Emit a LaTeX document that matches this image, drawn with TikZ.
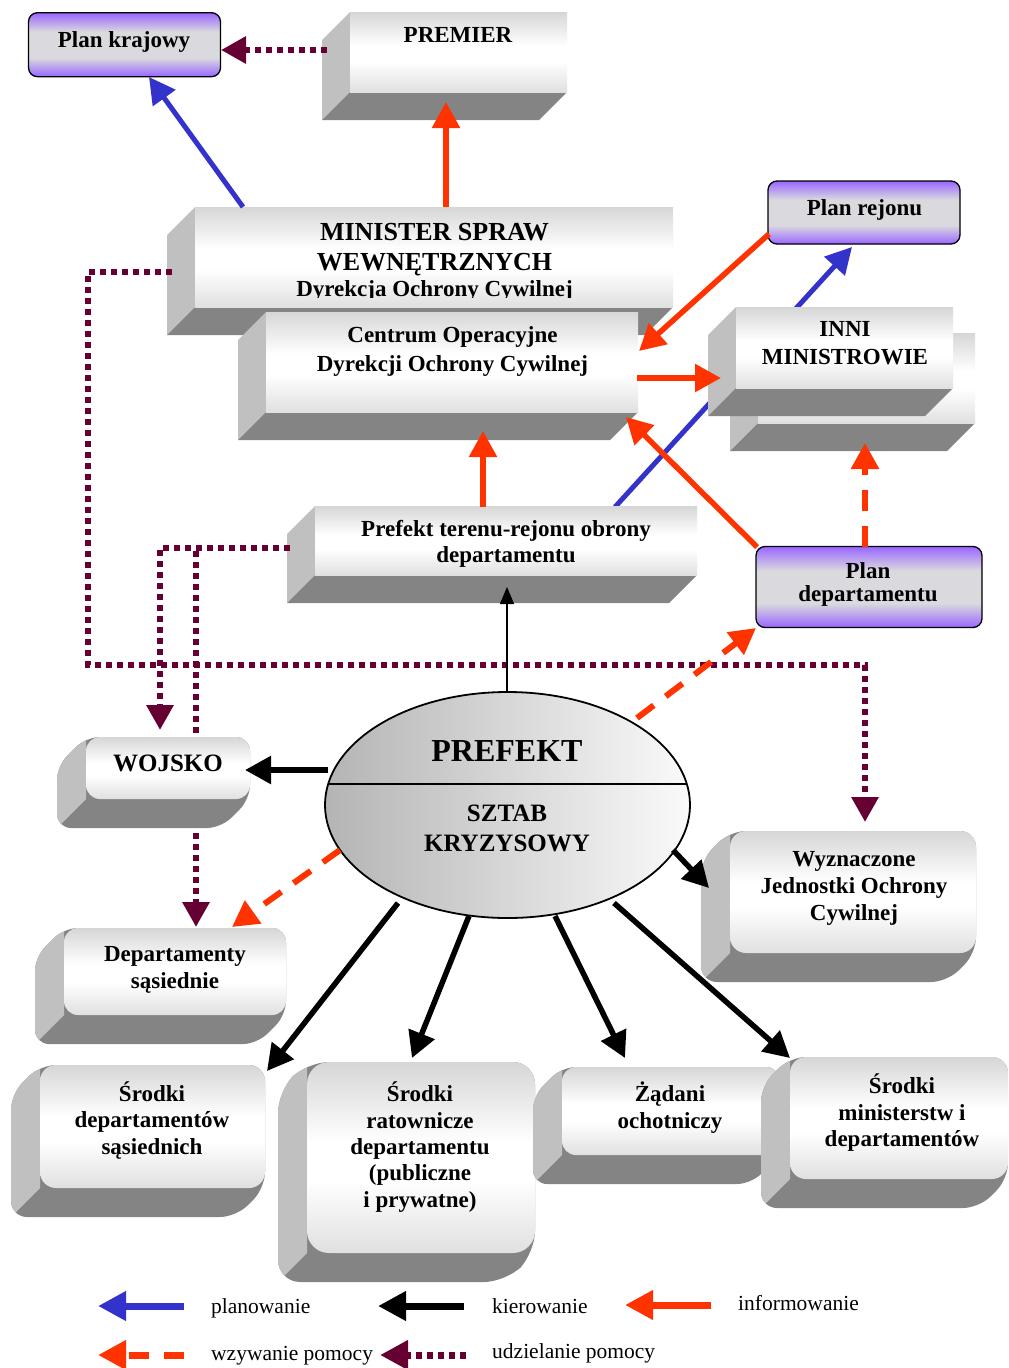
\documentclass[tikz,border=0pt]{standalone}
\usepackage{fontspec}
\setmainfont{Liberation Serif}
\usetikzlibrary{arrows.meta,shapes.geometric}

\definecolor{planblue}{RGB}{51,51,204}
\definecolor{infored}{RGB}{255,51,0}
\definecolor{helpmaroon}{RGB}{102,0,51}
\definecolor{purp}{RGB}{153,102,255}
\definecolor{plangray}{RGB}{218,218,222}
\definecolor{sidelight}{RGB}{192,192,192}
\definecolor{sidedark}{RGB}{132,132,132}
\definecolor{facetop}{RGB}{214,214,214}
\definecolor{facebot}{RGB}{224,224,224}
\definecolor{ellleft}{RGB}{180,180,180}
\definecolor{ellright}{RGB}{250,250,250}

% purple plan boxes: purple rims, grey middle band
\pgfdeclareverticalshading{planfill}{100bp}{color(0bp)=(purp); color(25bp)=(purp); color(40bp)=(plangray); color(60bp)=(plangray); color(75bp)=(purp); color(100bp)=(purp)}
% front faces of the blocks: grey top, white middle, light grey bottom
\pgfdeclareverticalshading{facefill}{100bp}{color(0bp)=(facebot); color(25bp)=(facebot); color(44bp)=(white); color(54bp)=(white); color(75bp)=(facetop); color(100bp)=(facetop)}

% block with sharp edges: x1 y1 x2 y2 (front face) and depth
\newcommand\bevelbox[5]{%
  \fill[sidelight] (#1,#2) -- (#1-#5,#2+#5) -- (#1-#5,#4+#5) -- (#1,#4) -- cycle;
  \fill[sidedark] (#1,#4) -- (#3,#4) -- (#3-#5,#4+#5) -- (#1-#5,#4+#5) -- cycle;
  \shade[shading=facefill] (#1,#2) rectangle (#3,#4);
}

% block with rounded edges: x1 y1 x2 y2 (front face), depth, corner radius
\newcommand\softbox[6]{%
  \begin{scope}
    \clip[rounded corners=#6pt] (#1,#2) -- (#3,#2) -- (#3,#4) -- (#3-#5,#4+#5)
       -- (#1-#5,#4+#5) -- (#1-#5,#2+#5) -- cycle;
    \fill[sidedark] (#1-#5-3,#2-3) rectangle (#3+3,#4+#5+3);
    \fill[sidelight] (#1,#2-3) -- (#1-#5-6,#2-3) -- (#1-#5-6,#4+#5+6) -- (#1,#4) -- cycle;
  \end{scope}
  \shade[shading=facefill,rounded corners=#6pt] (#1,#2) rectangle (#3,#4);
}

\begin{document}
\begin{tikzpicture}[x=1pt,y=-1pt,
  % multi-line labels are placed by the baseline of their last line
  bx/.style={font=\fontsize{23}{26.6}\selectfont\bfseries, align=center, anchor=base, inner sep=0pt},
  lgtext/.style={font=\fontsize{21.5}{24}\selectfont, anchor=base west, inner sep=0pt},
  planbox/.style={draw=black, line width=1.3pt, rounded corners=9pt, shade, shading=planfill, inner sep=0pt},
  planline/.style={color=planblue, line width=5pt, -{Triangle[length=26pt,width=27pt]}},
  info/.style={color=infored, line width=5.5pt, -{Triangle[length=26pt,width=27pt]}},
  cmd/.style={color=black, line width=5.5pt, -{Triangle[length=26pt,width=27pt]}},
  thinarrow/.style={color=black, line width=1.4pt, -{Triangle[length=17pt,width=14pt]}},
  callhelp/.style={color=infored, line width=6pt, dash pattern=on 21pt off 15pt, -{Triangle[length=26pt,width=27pt]}},
  helpdots/.style={color=helpmaroon, line width=6pt, dash pattern=on 6pt off 5pt},
  givehelp/.style={helpdots, -{Triangle[length=25pt,width=26pt]}},
  lgplan/.style={color=planblue, line width=7pt, -{Triangle[length=28pt,width=28pt]}},
  lgcmd/.style={color=black, line width=7pt, -{Triangle[length=28pt,width=28pt]}},
  lginfo/.style={color=infored, line width=7pt, -{Triangle[length=28pt,width=28pt]}},
  lgcall/.style={color=infored, line width=7pt, dash pattern=on 20pt off 15pt, -{Triangle[length=28pt,width=28pt]}},
  lggive/.style={color=helpmaroon, line width=7pt, dash pattern=on 6pt off 5pt, -{Triangle[length=28pt,width=28pt]}},
]
\useasboundingbox (0,0) rectangle (1009,1368);
\fill[white] (0,0) rectangle (1009,1368);

% ---------- connection points ----------
\coordinate (pk-s) at (149,77);
\coordinate (pk-e) at (221,50);
\coordinate (pm-w) at (327,50);
\coordinate (pm-s) at (446,102);
\coordinate (msw-n1) at (243,207);
\coordinate (msw-n2) at (446,207);
\coordinate (msw-w) at (172,272);
\coordinate (pr-sw) at (769,234);
\coordinate (pr-s) at (852,247);
\coordinate (co-e1) at (639,351);
\coordinate (co-e2) at (637,378);
\coordinate (co-se) at (626,417);
\coordinate (co-s) at (483,431);
\coordinate (inni-w) at (721,378);
\coordinate (inni-s) at (865,443);
\coordinate (pt-n1) at (483,507);
\coordinate (pt-n2) at (615,507);
\coordinate (pt-w) at (290,548);
\coordinate (pt-s) at (507,587);
\coordinate (pd-nw) at (757,547);
\coordinate (pd-n) at (865,547);
\coordinate (pd-sw) at (756,628);
\coordinate (pref-n) at (507,692);
\coordinate (pref-ne) at (637,718);
\coordinate (pref-w) at (328,770);
\coordinate (pref-sw) at (340,850);
\coordinate (pref-se) at (673,850);
\coordinate (pref-s1) at (398,903);
\coordinate (pref-s2) at (469,916);
\coordinate (pref-s3) at (555,916);
\coordinate (pref-s4) at (614,903);
\coordinate (woj-e) at (245,770);
\coordinate (woj-n1) at (160,730);
\coordinate (woj-n2) at (196,733);
\coordinate (woj-s) at (196,833);
\coordinate (dep-n1) at (196,927);
\coordinate (dep-n2) at (232,927);
\coordinate (wyz-nw) at (709,888);
\coordinate (wyz-n) at (865,822);
\coordinate (sd-ne) at (267,1071);
\coordinate (sr-n) at (412,1058);
\coordinate (za-n) at (625,1058);
\coordinate (sm-nw) at (790,1058);
\coordinate (bendA) at (88,665);

% planning line that runs behind the INNI MINISTROWIE blocks
\draw[planline] (pt-n2) -- (pr-s);

% ---------- blocks ----------
\bevelbox{350}{12}{567}{92}{28}
\bevelbox{195}{207}{673}{307}{28}
\bevelbox{266}{312}{638}{412}{28}
\bevelbox{758}{333}{975}{423}{28}
\bevelbox{736}{307}{953}{388}{28}
\bevelbox{315}{506}{697}{575}{28}

\softbox{86}{737}{250}{799}{29}{14}
\softbox{730}{831}{976}{953}{29}{16}
\softbox{64}{928}{286}{1015}{29}{14}
\softbox{40}{1065}{265}{1188}{29}{16}
\softbox{307}{1062}{535}{1253}{29}{22}
\softbox{562}{1067}{780}{1155}{29}{14}
\softbox{790}{1057}{1008}{1179}{29}{16}

\node[planbox, minimum width=192pt, minimum height=64pt] (pk) at (124.5,44.7) {};
\node[planbox, minimum width=192pt, minimum height=63pt] (pr) at (864,212.5) {};
\node[planbox, minimum width=226pt, minimum height=81pt] (pd) at (869,587) {};

\node[ellipse, draw=black, line width=1.8pt, left color=ellleft, right color=ellright,
      minimum width=365pt, minimum height=226pt, inner sep=0pt, outer sep=0pt] (pref) at (507.5,805) {};
\draw[line width=1.8pt] (328.5,784) -- (686.5,784);

% ---------- texts ----------
\node[bx] (t-pk) at (124,47) {Plan krajowy};
\node[bx] (t-pm) at (458,42) {PREMIER};
\node[bx, font=\fontsize{26}{29}\selectfont\bfseries] (t-msw1) at (434.5,240.7) {MINISTER SPRAW};
\node[bx, font=\fontsize{26}{29}\selectfont\bfseries] (t-msw2) at (434.5,270) {WEWNĘTRZNYCH};
\begin{scope}
  \clip (195,207) rectangle (673,297.5);
  \node[bx] (t-msw3) at (434.5,296) {Dyrekcja Ochrony Cywilnej};
\end{scope}
\node[bx, font=\fontsize{23}{28.3}\selectfont\bfseries] (t-co) at (452.5,371) {Centrum Operacyjne\\Dyrekcji Ochrony Cywilnej};
\node[bx, font=\fontsize{23}{27.3}\selectfont\bfseries] (t-inni) at (845,364) {INNI\\MINISTROWIE};
\node[bx] (t-pr) at (864.5,215) {Plan rejonu};
\node[bx, font=\fontsize{23}{26}\selectfont\bfseries] (t-pt) at (506,562.7) {Prefekt terenu-rejonu obrony\\departamentu};
\node[bx, font=\fontsize{23}{23.7}\selectfont\bfseries] (t-pd) at (868,601.7) {Plan\\departamentu};
\node[bx, font=\fontsize{32}{36}\selectfont\bfseries] (t-pref) at (507,761) {PREFEKT};
\node[bx, font=\fontsize{25}{29.3}\selectfont\bfseries] (t-sztab) at (507,851) {SZTAB\\KRYZYSOWY};
\node[bx, font=\fontsize{25}{29}\selectfont\bfseries] (t-woj) at (168,771.7) {WOJSKO};
\node[bx] (t-wyz) at (854,920) {Wyznaczone\\Jednostki Ochrony\\Cywilnej};
\node[bx] (t-dep) at (175,988.3) {Departamenty\\sąsiednie};
\node[bx, font=\fontsize{23}{26.2}\selectfont\bfseries] (t-sd) at (152,1154) {Środki\\departamentów\\sąsiednich};
\node[bx, font=\fontsize{23}{26.3}\selectfont\bfseries] (t-sr) at (420,1207) {Środki\\ratownicze\\departamentu\\(publiczne\\i prywatne)};
\node[bx] (t-za) at (670,1128.3) {Żądani\\ochotniczy};
\node[bx] (t-sm) at (902,1146.7) {Środki\\ministerstw i\\departamentów};

% ---------- help lines (dotted) ----------
\draw[givehelp] (pm-w) -- (pk-e);
\draw[givehelp] (msw-w) -| (bendA) -| (wyz-n);
\draw[givehelp] (pt-w) -| (woj-n1);
\draw[helpdots] (woj-n2) -- (woj-n2 |- pt-w);
\draw[givehelp] (woj-s) -- (dep-n1);

% ---------- connectors ----------
\draw[planline] (msw-n1) -- (pk-s);
\draw[info] (msw-n2) -- (pm-s);
\draw[info] (pr-sw) -- (co-e1);
\draw[info] (co-e2) -- (inni-w);
\draw[info] (pd-nw) -- (co-se);
\draw[info] (pt-n1) -- (co-s);
\draw[callhelp] (pd-n) -- (inni-s);
\draw[thinarrow] (pref-n) -- (pt-s);
\draw[callhelp] (pref-ne) -- (pd-sw);
\draw[cmd] (pref-w) -- (woj-e);
\draw[callhelp] (pref-sw) -- (dep-n2);
\draw[cmd] (pref-se) -- (wyz-nw);
\draw[cmd] (pref-s1) -- (sd-ne);
\draw[cmd] (pref-s2) -- (sr-n);
\draw[cmd] (pref-s3) -- (za-n);
\draw[cmd] (pref-s4) -- (sm-nw);

% ---------- legend ----------
\coordinate (lg1-a) at (184,1306); \coordinate (lg1-b) at (98,1306);
\coordinate (lg2-a) at (464,1306); \coordinate (lg2-b) at (378,1306);
\coordinate (lg3-a) at (711,1305); \coordinate (lg3-b) at (625,1305);
\coordinate (lg4-a) at (184,1355); \coordinate (lg4-b) at (98,1355);
\coordinate (lg5-a) at (466,1355); \coordinate (lg5-b) at (380,1355);
\draw[lgplan] (lg1-a) -- (lg1-b);
\draw[lgcmd] (lg2-a) -- (lg2-b);
\draw[lginfo] (lg3-a) -- (lg3-b);
\draw[lgcall] (lg4-a) -- (lg4-b);
\draw[lggive] (lg5-a) -- (lg5-b);
\node[lgtext] (lg1) at (211,1313) {planowanie};
\node[lgtext] (lg2) at (492,1313) {kierowanie};
\node[lgtext] (lg3) at (738,1310) {informowanie};
\node[lgtext] (lg4) at (211,1360) {wzywanie pomocy};
\node[lgtext] (lg5) at (492,1358) {udzielanie pomocy};
\end{tikzpicture}
\end{document}
